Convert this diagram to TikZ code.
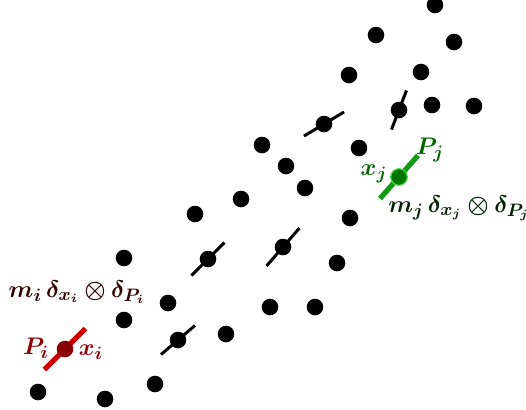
\documentclass[tikz,border=0pt]{standalone}
\usepackage{amsmath,bm}
\usetikzlibrary{calc}
\definecolor{ired}{HTML}{CC0000}
\definecolor{idot}{HTML}{8B0000}
\definecolor{ilab}{HTML}{8B0000}
\definecolor{imass}{HTML}{330000}
\definecolor{jline}{HTML}{119911}
\definecolor{jdot}{HTML}{007700}
\definecolor{jrim}{HTML}{44DD44}
\definecolor{jlab}{HTML}{006600}
\definecolor{jmass}{HTML}{002200}
\tikzset{
  pt/.style={fill=black,circle,inner sep=0pt,minimum size=8.3pt},
  seg/.style={line width=1.5pt,black},
  lab/.style={font=\fontsize{13}{15}\selectfont,inner sep=0pt},
}
\begin{document}
\begin{tikzpicture}[x=0.5pt,y=-0.5pt]
\useasboundingbox (0,0) rectangle (526,409);
% plain particles
\foreach \px/\py [count=\k] in {435/5,376/35,454/42,349/75,421/72,432/105,474/106,262/145,286/166,359/148,305/188,195/214,241/199,350/218,337/263,124/258,168/303,270/307,315/307,124/320,226/334,155/384,105/399,38/392}
  \node[pt] (p\k) at (\px,\py) {};
% particles with momentum lines
\foreach \name/\px/\py/\hx/\hy in {a/399/110/7.5/-19.5, b/324/124/20/-12, c/208/259/16.5/-16.5, d/283/247/16.5/-19, e/178/340/17/-14.5}{
  \coordinate (\name) at (\px,\py);
  \draw[seg] ($(\name)+(-\hx,-\hy)$) -- ($(\name)+(\hx,\hy)$);
  \node[pt] (\name n) at (\name) {};
}
% particle i
\coordinate (ci) at (65,349);
\draw[line width=2.6pt,ired] ($(ci)+(-20.5,20.5)$) -- ($(ci)+(20.5,-20.5)$);
\node[fill=idot,circle,inner sep=0pt,minimum size=8.3pt] (ni) at (ci) {};
\node[lab,text=ilab] (Pi) at (36,348) {$\bm{P_i}$};
\node[lab,text=ilab] (xi) at (91,352) {$\bm{x_i}$};
\node[lab,text=imass] (mi) at (77,292) {$\bm{m_i\,\delta_{x_i}\otimes\delta_{P_i}}$};
% particle j
\coordinate (cj) at (399,177);
\draw[line width=2.6pt,jline] ($(cj)+(-19,21.5)$) -- ($(cj)+(19,-21.5)$);
\node[fill=jdot,draw=jrim,line width=0.6pt,circle,inner sep=0pt,minimum size=8.3pt] (nj) at (cj) {};
\node[lab,text=jlab] (Pj) at (430,150) {$\bm{P_j}$};
\node[lab,text=jlab] (xj) at (374,174) {$\bm{x_j}$};
\node[lab,text=jmass] (mj) at (459,208) {$\bm{m_j\,\delta_{x_j}\otimes\delta_{P_j}}$};
\end{tikzpicture}
\end{document}
